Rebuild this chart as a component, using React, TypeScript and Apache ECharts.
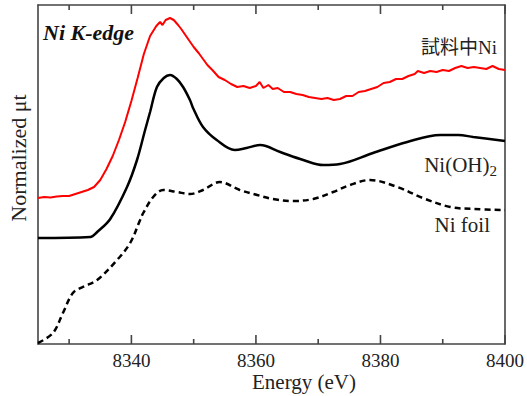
import React, { useEffect, useRef } from "react";
import * as echarts from "echarts";

// Energy (eV) and normalized absorption (arbitrary offset units)
const sampleNi: [number, number][] = [
  [8325, 146], [8326, 147], [8327, 146.5], [8328, 147.5], [8329, 148], [8330, 148],
  [8331, 150], [8332, 152], [8333, 154], [8334, 157], [8335, 164], [8336, 175],
  [8337, 188], [8338, 204], [8339, 222], [8340, 243], [8341, 266], [8342, 290],
  [8343, 308], [8344, 318], [8344.6, 322], [8345, 319], [8345.5, 324], [8346.2, 326],
  [8346.8, 324], [8347.5, 319], [8348, 315], [8349, 306], [8350, 297], [8350.8, 291],
  [8351.5, 285], [8352.2, 279], [8353, 274], [8354, 267], [8355, 264], [8356, 260],
  [8357, 257], [8358, 258], [8359, 256], [8360, 258], [8360.6, 262], [8361.2, 256],
  [8362, 259], [8362.7, 255], [8363.5, 256], [8364.5, 252], [8365.5, 252], [8366.5, 250],
  [8367.5, 249], [8368.5, 247], [8369.5, 246], [8370.5, 245], [8371.5, 246], [8372.5, 244],
  [8373.5, 245], [8374.5, 248], [8375.5, 248], [8376.5, 252], [8377.5, 253], [8378.5, 255],
  [8379.5, 257], [8380.5, 261], [8381.5, 262], [8382.5, 265], [8383.5, 265], [8384.5, 268],
  [8385.5, 270], [8386, 273], [8387, 271], [8388, 273], [8389, 272], [8390, 274],
  [8391, 273], [8392, 276], [8393, 278], [8394, 276], [8395, 277], [8396, 276],
  [8397, 275], [8398, 278], [8399, 275], [8400, 274],
];

const niOH2: [number, number][] = [
  [8325, 106], [8333.4, 107], [8334.5, 112], [8336.6, 125], [8339.3, 157],
  [8340.9, 184], [8342.2, 214], [8343, 232], [8344.1, 257], [8345.2, 266],
  [8346.2, 269], [8347.3, 265], [8348.3, 257], [8349.4, 244], [8349.9, 236],
  [8351.5, 217], [8353.7, 204], [8356.6, 194], [8358.5, 196], [8360.7, 199],
  [8363.9, 192], [8367.6, 184], [8370.8, 179], [8373.5, 180], [8378.8, 191],
  [8384.3, 202], [8389.6, 209], [8392.5, 209], [8394.9, 207], [8400, 203],
];

const niFoil: [number, number][] = [
  [8325, 1], [8327.4, 11], [8329, 31], [8330.6, 51], [8332.2, 57], [8334.5, 64],
  [8337.7, 84], [8339.8, 101], [8341.4, 124], [8341.9, 131], [8343.5, 147],
  [8345.1, 154], [8347.3, 152], [8349.4, 150], [8351.5, 154], [8354.2, 162],
  [8357.4, 154], [8360.2, 149], [8362.7, 145], [8366, 143], [8369.2, 145],
  [8372.4, 152], [8375.1, 159], [8378.3, 164], [8382.7, 157], [8386.8, 146],
  [8391.2, 137], [8395, 135], [8400, 134],
];

const majorTicks = [8340, 8360, 8380, 8400];
const minorTicks = [8330, 8350, 8370, 8390];

const X_MIN = 8325;
const X_MAX = 8400;
const Y_MIN = 0;
const Y_MAX = 339;
const MAJOR_LEN = 9;
const MINOR_LEN = 5;

const SERIF = "'Liberation Serif', 'Times New Roman', serif";
const AXIS_COLOR = "#444";

export default function App() {
  const ref = useRef<HTMLDivElement>(null);
  useEffect(() => {
    if (!ref.current) return;
    const chart = echarts.init(ref.current, undefined, { renderer: "svg" });

    // Inward tick marks on the bottom and top frame, as small rect symbols
    const tickItems: any[] = [];
    const addTick = (v: number, len: number) => {
      tickItems.push({ value: [v, Y_MIN], symbolSize: [1.6, len], symbolOffset: [0, -len / 2] });
      tickItems.push({ value: [v, Y_MAX], symbolSize: [1.6, len], symbolOffset: [0, len / 2] });
    };
    majorTicks.forEach((v) => addTick(v, MAJOR_LEN));
    minorTicks.forEach((v) => addTick(v, MINOR_LEN));

    const axisLine = { show: true, onZero: false, lineStyle: { color: AXIS_COLOR, width: 1.6 } };

    chart.setOption({
      animation: false,
      backgroundColor: "#fff",
      grid: { left: 38, right: 21, top: 5, bottom: 52, containLabel: false },
      xAxis: [
        {
          type: "value",
          min: X_MIN,
          max: X_MAX,
          position: "bottom",
          splitLine: { show: false },
          axisLine,
          axisTick: { show: false },
          axisLabel: {
            show: true,
            customValues: majorTicks,
            formatter: (v: number) => String(v),
            color: "#222",
            fontFamily: SERIF,
            fontSize: 19,
            margin: 7,
          },
        },
        {
          type: "value",
          min: X_MIN,
          max: X_MAX,
          position: "top",
          splitLine: { show: false },
          axisLine,
          axisTick: { show: false },
          axisLabel: { show: false },
        },
      ],
      yAxis: [
        {
          type: "value",
          min: Y_MIN,
          max: Y_MAX,
          position: "left",
          splitLine: { show: false },
          axisLine,
          axisTick: { show: false },
          axisLabel: { show: false },
        },
        {
          type: "value",
          min: Y_MIN,
          max: Y_MAX,
          position: "right",
          splitLine: { show: false },
          axisLine,
          axisTick: { show: false },
          axisLabel: { show: false },
        },
      ],
      series: [
        {
          name: "試料中Ni",
          type: "line",
          data: sampleNi,
          showSymbol: false,
          lineStyle: { color: "#ff0000", width: 2 },
          xAxisIndex: 0,
          yAxisIndex: 0,
          z: 3,
        },
        {
          name: "Ni(OH)2",
          type: "line",
          data: niOH2,
          smooth: 0.35,
          showSymbol: false,
          lineStyle: { color: "#000", width: 2.5 },
          xAxisIndex: 0,
          yAxisIndex: 0,
          z: 3,
        },
        {
          name: "Ni foil",
          type: "line",
          data: niFoil,
          smooth: 0.35,
          showSymbol: false,
          lineStyle: { color: "#000", width: 2.5, type: [6, 4] },
          xAxisIndex: 0,
          yAxisIndex: 0,
          z: 3,
        },
        {
          name: "ticks",
          type: "scatter",
          data: tickItems,
          symbol: "rect",
          silent: true,
          clip: false,
          xAxisIndex: 0,
          yAxisIndex: 0,
          z: 10,
          itemStyle: { color: AXIS_COLOR, opacity: 1 },
          emphasis: { disabled: true },
        },
      ],
      graphic: [
        {
          type: "text",
          left: 43,
          top: 21,
          style: { text: "Ni K-edge", fontFamily: SERIF, fontSize: 22, fontWeight: "bold", fontStyle: "italic", fill: "#111" },
        },
        {
          type: "text",
          x: 497,
          y: 47,
          style: { text: "試料中Ni", fontFamily: "'Liberation Serif', 'Noto Sans CJK JP', serif", fontSize: 19, fill: "#222", align: "right", verticalAlign: "middle" },
        },
        {
          type: "text",
          x: 497,
          y: 165,
          style: {
            text: "Ni(OH){sub|2}",
            fontFamily: SERIF,
            fontSize: 21,
            fill: "#222",
            align: "right",
            verticalAlign: "middle",
            rich: { sub: { fontFamily: SERIF, fontSize: 15, fill: "#222", padding: [12, 0, 0, 0] } },
          },
        },
        {
          type: "text",
          x: 490,
          y: 225,
          style: { text: "Ni foil", fontFamily: SERIF, fontSize: 21, fill: "#222", align: "right", verticalAlign: "middle" },
        },
        {
          type: "text",
          x: 304,
          y: 382,
          style: { text: "Energy (eV)", fontFamily: SERIF, fontSize: 21, fill: "#222", align: "center", verticalAlign: "middle" },
        },
        {
          type: "text",
          x: 18,
          y: 158,
          rotation: Math.PI / 2,
          style: { text: "Normalized μt", fontFamily: SERIF, fontSize: 22, fill: "#222", align: "center", verticalAlign: "middle" },
        },
      ],
    });
    return () => chart.dispose();
  }, []);
  return (
    <div
      ref={ref}
      style={{ position: "fixed", left: 0, top: 0, width: 527, height: 396, background: "#fff" }}
    />
  );
}
